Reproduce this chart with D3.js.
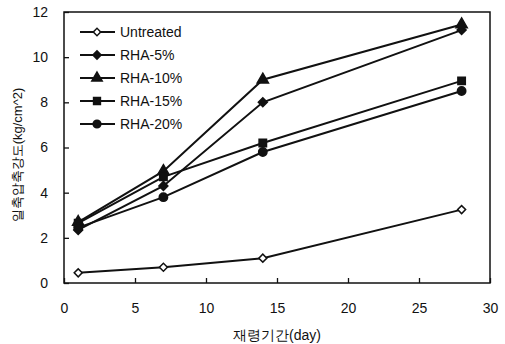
<!DOCTYPE html>
<html>
<head>
<meta charset="utf-8">
<script src="https://cdn.jsdelivr.net/npm/d3@7"></script>
<style>
  body { margin: 0; background: #fff; }
  text { font-family: "Liberation Sans", Arial, sans-serif; fill: #111; }
</style>
</head>
<body>
<svg></svg>
<script>
// Data
const days = [1, 7, 14, 28];
const seriesNames = ['Untreated', 'RHA-5%', 'RHA-10%', 'RHA-15%', 'RHA-20%'];
const untreated = [0.45, 0.7, 1.1, 3.25];
const rha5 = [2.35, 4.3, 8.0, 11.2];
const rha10 = [2.7, 4.95, 9.0, 11.45];
const rha15 = [2.65, 4.7, 6.2, 8.95];
const rha20 = [2.45, 3.8, 5.8, 8.5];
const xTicks = [0, 5, 10, 15, 20, 25, 30];
const yTicks = [0, 2, 4, 6, 8, 10, 12];

const seriesValues = [untreated, rha5, rha10, rha15, rha20];
const symbols = [d3.symbolSquare, d3.symbolSquare, d3.symbolTriangle, d3.symbolSquare, d3.symbolCircle];
const rotations = [45, 45, 0, 0, 0];
const sizes = [32, 40, 55, 55, 55];
const fills = ['#fff', '#111', '#111', '#111', '#111'];

let width = 505, height = 344;
let margin = { top: 12, bottom: 61, left: 64, right: 15 };

let svg = d3.select('svg')
    .attr('width', width)
    .attr('height', height);

let xScale = d3.scaleLinear()
    .domain([0, 30])
    .range([margin.left, width - margin.right]);

let yScale = d3.scaleLinear()
    .domain([0, 12])
    .range([height - margin.bottom, margin.top]);

// frame
svg.append('rect')
    .attr('x', margin.left)
    .attr('y', margin.top)
    .attr('width', width - margin.left - margin.right)
    .attr('height', height - margin.top - margin.bottom)
    .attr('fill', 'none')
    .attr('stroke', '#111')
    .attr('stroke-width', 1.5);

let xAxis = svg.append('g')
    .attr('transform', `translate(0, ${height - margin.bottom})`)
    .call(d3.axisBottom(xScale).tickValues(xTicks).tickSizeInner(-5).tickSizeOuter(0).tickPadding(20));

let yAxis = svg.append('g')
    .attr('transform', `translate(${margin.left}, 0)`)
    .call(d3.axisLeft(yScale).tickValues(yTicks).tickSizeInner(-5).tickSizeOuter(0).tickPadding(16));

[xAxis, yAxis].forEach(a => {
    a.select('.domain').remove();
    a.selectAll('line').attr('stroke', '#111').attr('stroke-width', 1.3);
    a.selectAll('text').style('font-size', '14px').attr('fill', '#111');
});

// axis titles
svg.append('text')
    .attr('x', (margin.left + width - margin.right) / 2)
    .attr('y', 340)
    .attr('text-anchor', 'middle')
    .style('font-size', '14px')
    .text('재령기간(day)');

svg.append('text')
    .attr('transform', `translate(22, 155) rotate(-90)`)
    .attr('text-anchor', 'middle')
    .style('font-size', '13px')
    .text('일축압축강도(kg/cm^2)');

let line = d3.line()
    .x((d, i) => xScale(days[i]))
    .y(d => yScale(d));

seriesValues.forEach((vals, s) => {
    svg.append('path')
        .datum(vals)
        .attr('d', line)
        .attr('fill', 'none')
        .attr('stroke', '#111')
        .attr('stroke-width', 2);

    svg.selectAll('.pt' + s)
        .data(vals)
        .enter()
        .append('path')
        .attr('class', 'pt' + s)
        .attr('transform', (d, i) => `translate(${xScale(days[i])}, ${yScale(d)}) rotate(${rotations[s]})`)
        .attr('d', d3.symbol().type(symbols[s]).size(sizes[s]))
        .attr('fill', fills[s])
        .attr('stroke', '#111')
        .attr('stroke-width', 1.5);
});

// legend
let legend = svg.append('g');
seriesNames.forEach((name, s) => {
    let y = 32 + s * 23;
    legend.append('line')
        .attr('x1', 80).attr('x2', 115)
        .attr('y1', y).attr('y2', y)
        .attr('stroke', '#111')
        .attr('stroke-width', 2);
    legend.append('path')
        .attr('transform', `translate(97, ${y}) rotate(${rotations[s]})`)
        .attr('d', d3.symbol().type(symbols[s]).size(sizes[s] * 0.85))
        .attr('fill', fills[s])
        .attr('stroke', '#111')
        .attr('stroke-width', 1.5);
    legend.append('text')
        .attr('x', 120)
        .attr('y', y + 5)
        .style('font-size', '14px')
        .text(name);
});
</script>
</body>
</html>
